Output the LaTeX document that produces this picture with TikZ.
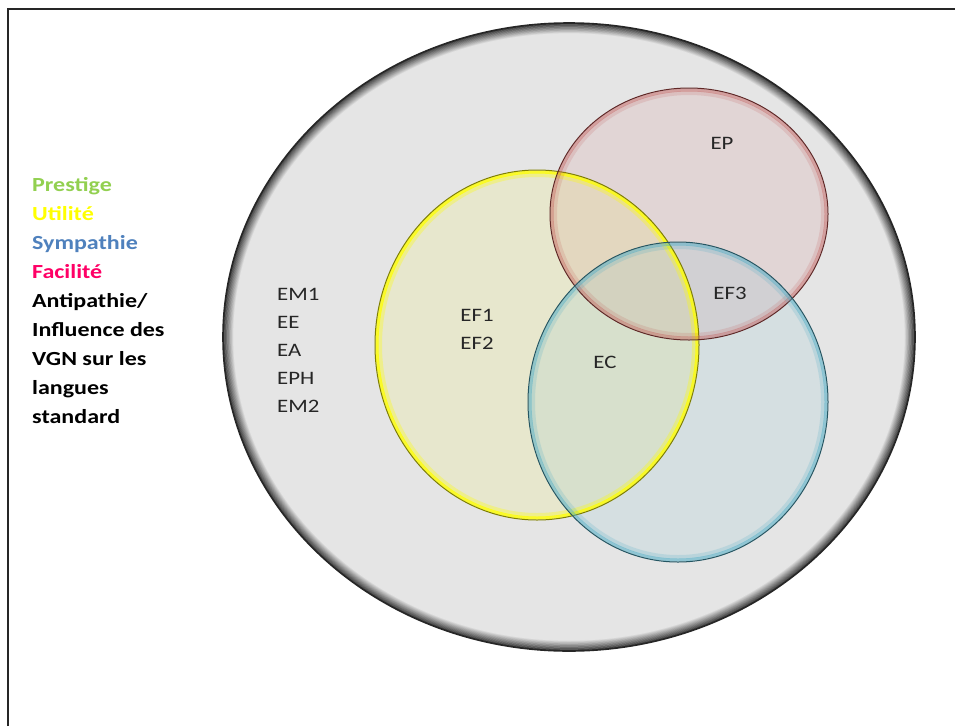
\documentclass[tikz,border=0pt]{standalone}
\usepackage{fontspec}
\setmainfont{Carlito}[FakeStretch=1.2]
\usetikzlibrary{positioning}
\definecolor{prestige}{RGB}{146,208,80}
\definecolor{utilite}{RGB}{255,255,0}
\definecolor{sympathie}{RGB}{79,129,189}
\definecolor{facilite}{RGB}{255,0,102}
\definecolor{fond}{RGB}{229,229,229}
\definecolor{rouge}{RGB}{192,80,77}
\definecolor{turquoise}{RGB}{75,172,198}
\definecolor{texte}{RGB}{38,38,38}
\tikzset{
  legende/.style={anchor=base west, inner sep=0pt, font=\fontsize{20}{24}\selectfont\bfseries},
  etiquette/.style={inner sep=0pt, text=texte, font=\fontsize{19}{22}\selectfont},
}

\begin{document}
\begin{tikzpicture}[x=1pt, y=-1pt]
    \useasboundingbox (0,0) rectangle (955,726);
    \fill[white] (0,0) rectangle (955,726);
    \draw[line width=2pt, black!85] (8,726) -- (8,9) -- (955,9);

    % grand ensemble
    \fill[fond] (569,337) ellipse [x radius=346, y radius=314];
    \foreach \i in {1,...,18} {
        \pgfmathsetmacro\teinte{int(80-4.4*\i)}
        \draw[line width=0.9pt, black!\teinte!fond] (569,337) ellipse [x radius=346-0.6*\i, y radius=314-0.6*\i];
    }
    \draw[line width=1.6pt, black!85] (569,337) ellipse [x radius=346, y radius=314];

    % trois ensembles
    \foreach \cx/\cy/\rx/\ry/\col in {537/345/162/175/utilite, 689/214/139/126/rouge, 678/402/150/160/turquoise} {
        \fill[\col, fill opacity=0.1] (\cx,\cy) ellipse [x radius=\rx, y radius=\ry];
    }
    \foreach \cx/\cy/\rx/\ry/\col/\op in {537/345/162/175/utilite/0.8, 689/214/139/126/rouge/0.4, 678/402/150/160/turquoise/0.5} {
        \draw[\col, line width=3pt, draw opacity=\op] (\cx,\cy) ellipse [x radius=\rx-2, y radius=\ry-2];
        \draw[\col, line width=4pt, draw opacity=0.4*\op] (\cx,\cy) ellipse [x radius=\rx-5, y radius=\ry-5];
        \draw[\col!50!black, line width=1pt] (\cx,\cy) ellipse [x radius=\rx, y radius=\ry];
    }

    \node[etiquette] (ep) at (722,143) {EP};
    \node[etiquette] (ef3) at (730,293) {EF3};
    \node[etiquette] (ef1) at (477,315) {EF1};
    \node[etiquette] (ef2) at (477,343) {EF2};
    \node[etiquette] (ec) at (605,362) {EC};
    \foreach \nom [count=\k] in {EM1, EE, EA, EPH, EM2}
        \node[etiquette, anchor=west] (em\k) at (277,{266+28*\k}) {\nom};

    \foreach \mot/\col [count=\k] in {Prestige/prestige, Utilité/utilite, Sympathie/sympathie, Facilité/facilite, Antipathie\slash/black, Influence des/black, VGN sur les/black, langues/black, standard/black}
        \node[legende, text=\col] (leg\k) at (32,{162+29*\k}) {\mot};
\end{tikzpicture}
\end{document}
